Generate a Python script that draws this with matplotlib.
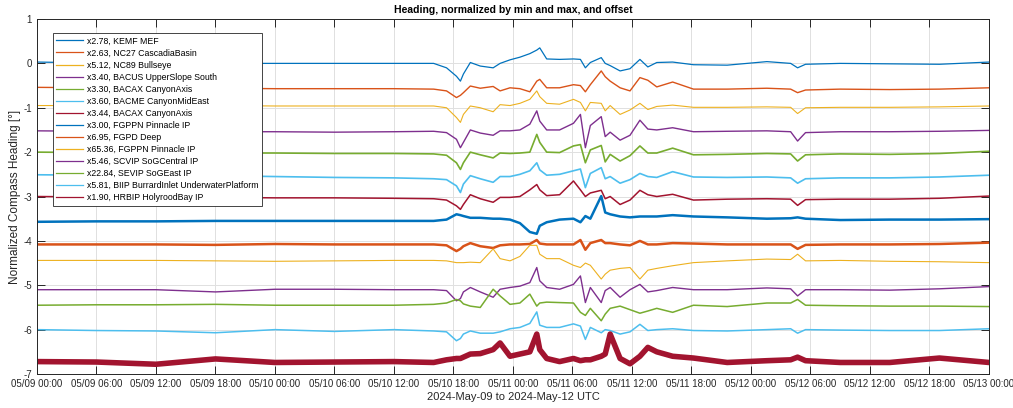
import numpy as np
import pandas as pd
import matplotlib
matplotlib.use("Agg")
import matplotlib.pyplot as plt
import matplotlib.dates as mdates

plt.rcParams['font.family'] = ['Liberation Sans', 'DejaVu Sans']
plt.rcParams['axes.unicode_minus'] = False

# hours since 2024-05-09 00:00 UTC
hours = [0, 6, 12, 18, 24, 30, 36, 40, 41.3, 42.3, 42.7, 43, 43.7, 44.7, 46, 46.7,
         47.7, 48.7, 49.7, 50.4, 50.7, 51.4, 52.7, 54.1, 54.8, 55.3, 55.8, 56.9, 57.3,
         57.8, 58.8, 59.8, 60.8, 61.6, 62.5, 64.1, 66.2, 69.6, 73.6, 76.0, 76.7, 77.5,
         81, 86, 91, 96]

labels = [
    "x2.78, KEMF MEF",
    "x2.63, NC27 CascadiaBasin",
    "x5.12, NC89 Bullseye",
    "x3.40, BACUS UpperSlope South",
    "x3.30, BACAX CanyonAxis",
    "x3.60, BACME CanyonMidEast",
    "x3.44, BACAX CanyonAxis",
    "x3.00, FGPPN Pinnacle IP",
    "x6.95, FGPD Deep",
    "x65.36, FGPPN Pinnacle IP",
    "x5.46, SCVIP SoGCentral IP",
    "x22.84, SEVIP SoGEast IP",
    "x5.81, BIIP BurrardInlet UnderwaterPlatform",
    "x1.90, HRBIP HolyroodBay IP",
]

# normalized + offset heading
kemf = [0.03, 0.01, 0.0, 0.0, 0.0, 0.0, 0.0, 0.0, -0.10, -0.29, -0.40, -0.24, 0.02, -0.06, -0.10, 0.0,
        0.08, 0.14, 0.22, 0.30, 0.35, 0.10, 0.09, 0.10, 0.09, -0.10, 0.02, 0.13, 0.0,
        -0.05, -0.17, -0.12, 0.09, -0.08, 0.02, 0.03, -0.03, -0.04, 0.04, 0.0, -0.10, -0.02,
        0.0, -0.01, -0.02, 0.03]
nc27 = [-0.54, -0.55, -0.56, -0.56, -0.57, -0.57, -0.57, -0.58, -0.62, -0.77, -0.72, -0.66, -0.51, -0.56, -0.52, -0.62,
        -0.55, -0.57, -0.64, -0.40, -0.36, -0.55, -0.55, -0.48, -0.50, -0.64, -0.48, -0.17, -0.30,
        -0.40, -0.55, -0.62, -0.32, -0.38, -0.53, -0.42, -0.58, -0.58, -0.56, -0.58, -0.66, -0.60,
        -0.58, -0.59, -0.58, -0.55]
nc89 = [-0.95, -0.95, -0.95, -0.95, -0.96, -0.96, -0.96, -0.96, -1.00, -1.22, -1.33, -1.15, -0.96, -1.00, -1.09, -0.93,
        -0.95, -0.90, -0.81, -0.62, -0.75, -0.90, -0.92, -0.81, -0.88, -1.07, -0.88, -0.90, -1.07,
        -0.95, -1.15, -1.05, -0.90, -1.04, -0.97, -0.94, -0.99, -0.99, -0.98, -0.99, -1.13, -1.00,
        -0.99, -0.99, -0.98, -0.96]
bacus = [-1.52, -1.53, -1.53, -1.54, -1.54, -1.55, -1.54, -1.53, -1.56, -1.71, -1.90, -1.78, -1.50, -1.57, -1.62, -1.52,
         -1.52, -1.50, -1.37, -1.07, -1.30, -1.50, -1.50, -1.35, -1.15, -1.90, -1.40, -1.20, -1.65,
         -1.55, -1.73, -1.62, -1.28, -1.48, -1.50, -1.45, -1.54, -1.53, -1.52, -1.54, -1.75, -1.56,
         -1.54, -1.54, -1.53, -1.51]
bacax = [-2.00, -2.01, -2.02, -2.02, -2.02, -2.03, -2.03, -2.04, -2.07, -2.24, -2.39, -2.24, -2.00, -2.06, -2.13, -2.02,
         -2.03, -2.02, -2.00, -1.60, -1.78, -2.00, -2.01, -1.86, -1.83, -2.24, -1.95, -1.85, -2.22,
         -2.05, -2.20, -2.08, -1.86, -2.02, -2.02, -1.91, -2.06, -2.05, -2.03, -2.04, -2.20, -2.06,
         -2.04, -2.05, -2.03, -1.98]
bacme = [-2.51, -2.52, -2.52, -2.53, -2.55, -2.57, -2.58, -2.60, -2.62, -2.76, -2.91, -2.72, -2.53, -2.60, -2.68, -2.55,
         -2.55, -2.50, -2.42, -2.24, -2.40, -2.52, -2.50, -2.42, -2.38, -2.80, -2.48, -2.35, -2.60,
         -2.55, -2.70, -2.62, -2.48, -2.55, -2.57, -2.44, -2.56, -2.57, -2.56, -2.58, -2.70, -2.60,
         -2.58, -2.58, -2.56, -2.52]
bacax2 = [-3.00, -3.01, -3.01, -3.02, -3.03, -3.03, -3.04, -3.05, -3.08, -3.21, -3.29, -3.18, -2.96, -3.05, -3.13, -3.02,
          -3.02, -3.00, -2.85, -2.73, -2.85, -2.98, -2.96, -2.65, -2.85, -3.00, -2.92, -2.86, -3.05,
          -3.00, -3.18, -3.08, -2.86, -2.96, -3.00, -2.95, -3.08, -3.06, -3.05, -3.06, -3.20, -3.07,
          -3.06, -3.06, -3.04, -2.99]
fgppn = [-3.57, -3.56, -3.56, -3.55, -3.55, -3.55, -3.55, -3.55, -3.52, -3.40, -3.42, -3.44, -3.48, -3.48, -3.50, -3.50,
         -3.52, -3.60, -3.80, -3.84, -3.66, -3.58, -3.52, -3.50, -3.58, -3.44, -3.50, -2.99, -3.36,
         -3.40, -3.45, -3.47, -3.45, -3.45, -3.45, -3.42, -3.45, -3.47, -3.50, -3.49, -3.47, -3.50,
         -3.53, -3.52, -3.52, -3.51]
fgpd = [-4.08, -4.08, -4.08, -4.09, -4.07, -4.08, -4.08, -4.08, -4.10, -4.23, -4.18, -4.12, -4.05, -4.12, -4.16, -4.10,
        -4.08, -4.08, -4.07, -3.98, -4.06, -4.08, -4.08, -4.08, -3.98, -4.20, -4.05, -3.98, -4.05,
        -4.05, -4.08, -4.10, -4.00, -4.08, -4.08, -4.05, -4.06, -4.08, -4.08, -4.08, -4.18, -4.09,
        -4.08, -4.08, -4.07, -4.04]
fgppn2 = [-4.44, -4.44, -4.44, -4.45, -4.46, -4.45, -4.44, -4.44, -4.45, -4.49, -4.49, -4.49, -4.48, -4.49, -4.18, -4.40,
          -4.45, -4.35, -4.10, -4.10, -4.30, -4.40, -4.40, -4.55, -4.60, -4.50, -4.55, -4.86, -4.75,
          -4.66, -4.62, -4.60, -4.86, -4.66, -4.62, -4.56, -4.49, -4.45, -4.41, -4.42, -4.30, -4.45,
          -4.44, -4.46, -4.47, -4.49]
scvip = [-5.10, -5.10, -5.10, -5.15, -5.09, -5.09, -5.10, -5.10, -5.12, -5.35, -5.30, -5.15, -5.05, -5.15, -5.27, -5.09,
         -5.05, -5.02, -4.94, -4.60, -4.90, -5.05, -5.09, -4.98, -4.79, -5.39, -5.05, -5.39, -5.12,
         -5.05, -5.27, -5.10, -4.98, -5.15, -5.12, -5.05, -5.10, -5.10, -5.06, -5.08, -5.24, -5.10,
         -5.10, -5.11, -5.08, -5.03]
sevip = [-5.45, -5.44, -5.44, -5.43, -5.45, -5.45, -5.45, -5.43, -5.40, -5.32, -5.35, -5.42, -5.47, -5.50, -5.09, -5.24,
         -5.43, -5.40, -5.20, -5.47, -5.40, -5.38, -5.39, -5.40, -5.61, -5.68, -5.52, -5.80, -5.65,
         -5.52, -5.47, -5.55, -5.63, -5.58, -5.52, -5.61, -5.45, -5.48, -5.40, -5.40, -5.32, -5.45,
         -5.46, -5.47, -5.47, -5.48]
biip = [-6.00, -6.02, -6.03, -6.07, -6.00, -6.04, -6.00, -6.03, -6.05, -6.25, -6.20, -6.10, -6.03, -6.08, -6.08, -6.05,
        -5.98, -5.95, -5.86, -5.60, -5.90, -5.95, -5.95, -5.87, -5.92, -6.22, -5.95, -6.07, -6.00,
        -6.02, -6.10, -6.05, -5.88, -6.02, -6.00, -5.98, -6.02, -6.03, -6.00, -5.98, -6.08, -6.00,
        -6.01, -6.02, -6.02, -5.98]
hrbip = [-6.72, -6.73, -6.78, -6.66, -6.74, -6.73, -6.72, -6.74, -6.68, -6.65, -6.65, -6.62, -6.55, -6.54, -6.45, -6.30,
         -6.60, -6.55, -6.50, -6.10, -6.45, -6.65, -6.72, -6.65, -6.70, -6.68, -6.68, -6.60, -6.55,
         -6.10, -6.65, -6.77, -6.60, -6.40, -6.50, -6.60, -6.64, -6.74, -6.70, -6.68, -6.62, -6.70,
         -6.74, -6.74, -6.64, -6.74]

series = [kemf, nc27, nc89, bacus, bacax, bacme, bacax2,
          fgppn, fgpd, fgppn2, scvip, sevip, biip, hrbip]

colors = ['#0072BD', '#D95319', '#EDB120', '#7E2F8E', '#77AC30', '#4DBEEE', '#A2142F']
widths = [0.9, 1.0, 0.8, 1.0, 1.2, 1.2, 1.1, 1.8, 1.8, 0.8, 1.0, 1.1, 1.1, 4.0]

times = pd.Timestamp("2024-05-09") + pd.to_timedelta(hours, unit="h")

fig = plt.figure(figsize=(10.13, 4.08), dpi=100)
ax = fig.add_axes([0.0365, 0.0833, 0.9398, 0.8701])

for i, (vals, lab) in enumerate(zip(series, labels)):
    ax.plot(times, vals, color=colors[i % 7], lw=widths[i], label=lab)

ax.set_xlim(pd.Timestamp("2024-05-09"), pd.Timestamp("2024-05-13"))
ax.set_ylim(-7, 1)
ax.set_yticks(range(-7, 2))
ax.xaxis.set_major_locator(mdates.HourLocator(byhour=[0, 6, 12, 18]))
ax.xaxis.set_major_formatter(mdates.DateFormatter('%m/%d %H:%M'))

ax.grid(True, color='#e0e0e0', lw=0.7)
ax.tick_params(direction='in', length=6, width=0.7, labelsize=7, colors='#262626',
               top=True, right=True)
for sp in ax.spines.values():
    sp.set_color('#262626')
    sp.set_linewidth(0.7)

ax.set_title("Heading, normalized by min and max, and offset", fontsize=7.5,
             fontweight='bold', pad=4)
ax.set_xlabel("2024-May-09 to 2024-May-12 UTC", fontsize=8, color='#262626', labelpad=2)
ax.set_ylabel("Normalized Compass Heading [°]", fontsize=8.5, color='#262626', labelpad=2)

leg = ax.legend(loc='upper left', bbox_to_anchor=(0.0168, 0.9606), fontsize=6.3,
                fancybox=False, edgecolor='#262626', framealpha=1, handlelength=3.0,
                labelspacing=0.35, borderpad=0.4, handletextpad=0.45, borderaxespad=0)
leg.get_frame().set_linewidth(0.6)
for ln in leg.get_lines():
    ln.set_linewidth(0.9)

fig.savefig("out.png", dpi=100)
